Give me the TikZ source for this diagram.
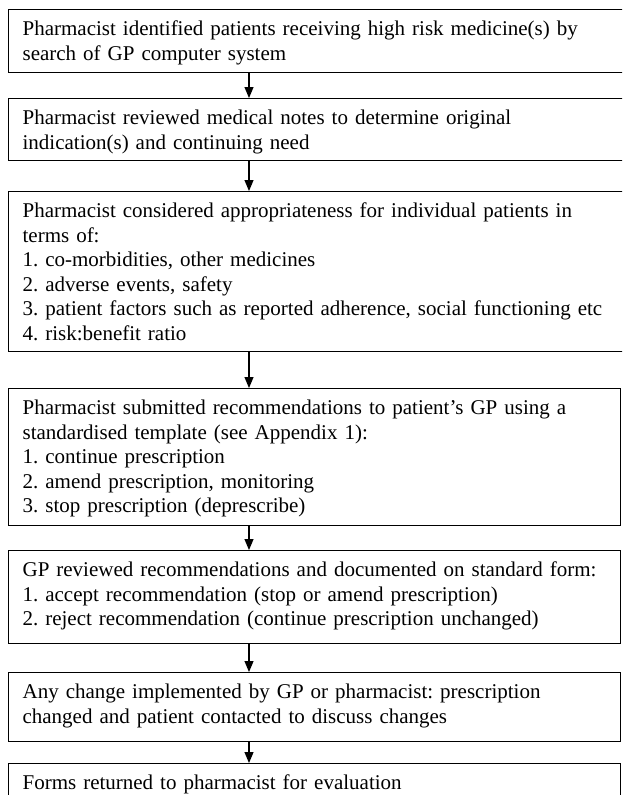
\documentclass[tikz,border=0pt]{standalone}
\usepackage{fontspec}
\setmainfont{Liberation Serif}
\usetikzlibrary{arrows.meta}

\begin{document}
\begin{tikzpicture}[x=1pt,y=-1pt,
        stage/.style={draw,line width=1.2pt,anchor=north west,align=left,
            inner xsep=14pt,inner ysep=0pt,text height=26pt,
            font=\fontsize{21}{24.5}\selectfont\frenchspacing},
        wide/.style={text width=620pt},
        narrow/.style={text width=584pt},
        flow/.style={line width=1.2pt,-{Triangle[width=9pt,length=11pt]}}]
    \useasboundingbox (0,0) rectangle (622,795);
    \clip (0,0) rectangle (622,795);
    \coordinate (spine) at (249,0);

    \node[stage,wide,text depth=37pt] (identify) at (8,9)
        {Pharmacist identified patients receiving high risk medicine(s) by\\
         search of GP computer system};
    \node[stage,wide,text depth=36pt] (notes) at (8,98)
        {Pharmacist reviewed medical notes to determine original\\
         indication(s) and continuing need};
    \node[stage,wide,text depth=134pt] (consider) at (8,191)
        {Pharmacist considered appropriateness for individual patients in\\
         terms of:\\
         1. co-morbidities, other medicines\\
         2. adverse events, safety\\
         3. patient factors such as reported adherence, social functioning etc\\
         4. risk:benefit ratio};
    \node[stage,narrow,text depth=111pt] (submit) at (8,388)
        {Pharmacist submitted recommendations to patient’s GP using a\\
         standardised template (see Appendix 1):\\
         1. continue prescription\\
         2. amend prescription, monitoring\\
         3. stop prescription (deprescribe)};
    \node[stage,narrow,text depth=67pt] (gpreview) at (8,550)
        {GP reviewed recommendations and documented on standard form:\\
         1. accept recommendation (stop or amend prescription)\\
         2. reject recommendation (continue prescription unchanged)};
    \node[stage,narrow,text depth=43pt] (change) at (8,672)
        {Any change implemented by GP or pharmacist: prescription\\
         changed and patient contacted to discuss changes};
    \node[stage,narrow,text depth=24pt] (forms) at (8,763)
        {Forms returned to pharmacist for evaluation};

    \draw[flow] (spine |- identify.south) -- (spine |- notes.north);
    \draw[flow] (spine |- notes.south) -- (spine |- consider.north);
    \draw[flow] (spine |- consider.south) -- (spine |- submit.north);
    \draw[flow] (spine |- submit.south) -- (spine |- gpreview.north);
    \draw[flow] (spine |- gpreview.south) -- (spine |- change.north);
    \draw[flow] (spine |- change.south) -- (spine |- forms.north);
\end{tikzpicture}
\end{document}
